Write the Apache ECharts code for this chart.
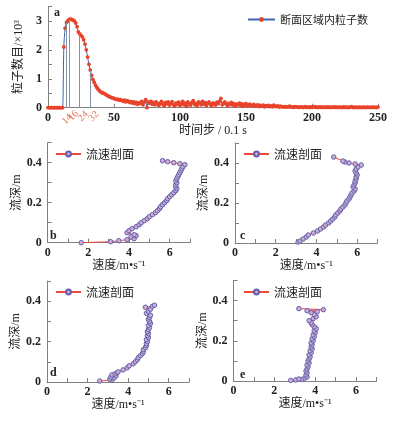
<!DOCTYPE html>
<html>
<head>
<meta charset="utf-8">
<script src="https://cdn.jsdelivr.net/npm/echarts@6/dist/echarts.min.js"></script>
<style>
  html, body { margin: 0; padding: 0; background: #fff; }
  #main { width: 397px; height: 421px; }
</style>
</head>
<body>
<div id="main"></div>
<script>
// 图a: 断面区域内粒子数 (x10^3), 时间步 0..250
const particleCount = [
  0, 0, 0, 0, 0, 0, 0, 0, 0, 0,
  0, 0, 2.1, 2.75, 2.95, 3.0, 3.05, 3.06, 3.05, 3.03,
  3.0, 2.93, 2.8, 2.62, 2.55, 2.5, 2.45, 2.35, 2.2, 2.0,
  1.75, 1.5, 1.3, 1.12, 0.98, 0.88, 0.78, 0.7, 0.64, 0.58,
  0.55, 0.52, 0.5, 0.48, 0.45, 0.42, 0.4, 0.37, 0.35, 0.34,
  0.32, 0.3, 0.28, 0.3, 0.26, 0.28, 0.25, 0.22, 0.26, 0.2,
  0.24, 0.22, 0.18, 0.21, 0.16, 0.2, 0.14, 0.18, 0.12, 0.17,
  0.15, 0.22, 0.1, 0.19, 0.28, 0, 0.2, 0.15, 0.22, 0.12,
  0.18, 0.1, 0.2, 0.14, 0.08, 0.16, 0.22, 0.12, 0.06, 0.18,
  0.13, 0.2, 0.09, 0.15, 0.21, 0.1, 0.06, 0.17, 0.12, 0.19,
  0.08, 0.14, 0.22, 0.1, 0.16, 0.05, 0.2, 0.13, 0.09, 0.18,
  0.24, 0.11, 0.15, 0.07, 0.2, 0.16, 0.1, 0.22, 0.12, 0.18,
  0.08, 0.15, 0.2, 0.11, 0.06, 0.17, 0.13, 0.09, 0.19, 0.14,
  0.22, 0.32, 0.1, 0.16, 0.2, 0.12, 0.07, 0.15, 0.11, 0.18,
  0.09, 0.14, 0.06, 0.12, 0.1, 0.16, 0.08, 0.13, 0.05, 0.11,
  0.14, 0.07, 0.1, 0.12, 0.06, 0.09, 0.11, 0.05, 0.08, 0.1,
  0.04, 0.08, 0.06, 0.09, 0.03, 0.07, 0.05, 0.08, 0.04, 0.06,
  0.03, 0.09, 0.05, 0.04, 0.06, 0.02, 0.05, 0.03, 0.04, 0.02,
  0.04, 0.02, 0.03, 0.05, 0.02, 0.03, 0.01, 0.04, 0.02, 0.03,
  0.01, 0.02, 0.03, 0.01, 0.02, 0.04, 0.01, 0.02, 0.01, 0.03,
  0.01, 0.02, 0.04, 0.01, 0.02, 0.01, 0.03, 0.01, 0.02, 0.01,
  0.02, 0.01, 0.03, 0.01, 0.01, 0.02, 0.01, 0.03, 0.01, 0.02,
  0.01, 0.02, 0.01, 0.01, 0.03, 0.01, 0.02, 0.01, 0.01, 0.02,
  0.04, 0.01, 0.01, 0.02, 0.01, 0.01, 0.02, 0.01, 0.01, 0.02,
  0.01, 0.01, 0.02, 0.01, 0.01, 0.01, 0.02, 0.01, 0.01, 0.01, 0.02
];
const markSteps = [14, 16, 24, 32];

// 图b-e: 流速剖面 (速度 m/s, 流深 m)
const depthB = [0, 0.005, 0.01, 0.015, 0.02, 0.03, 0.035, 0.04, 0.05, 0.06, 0.07, 0.08, 0.09, 0.10, 0.11, 0.12, 0.13, 0.14, 0.15, 0.16, 0.17, 0.18, 0.19, 0.20, 0.21, 0.22, 0.23, 0.24, 0.25, 0.26, 0.27, 0.28, 0.29, 0.30, 0.31, 0.32, 0.33, 0.34, 0.35, 0.36, 0.37, 0.38, 0.39, 0.395, 0.40, 0.405, 0.41];
const speedB = [1.65, 3.1, 3.5, 3.9, 4.25, 4.1, 4.35, 4.25, 3.9, 4.0, 4.15, 4.35, 4.5, 4.6, 4.75, 4.9, 5.0, 5.15, 5.3, 5.4, 5.5, 5.55, 5.65, 5.75, 5.85, 5.9, 6.0, 6.1, 6.2, 6.3, 6.35, 6.3, 6.3, 6.35, 6.3, 6.35, 6.4, 6.45, 6.5, 6.55, 6.6, 6.65, 6.75, 6.5, 6.2, 5.9, 5.65];

const depthC = [0.005, 0.01, 0.02, 0.03, 0.04, 0.05, 0.06, 0.07, 0.08, 0.09, 0.10, 0.11, 0.12, 0.13, 0.14, 0.15, 0.16, 0.17, 0.18, 0.19, 0.20, 0.21, 0.22, 0.23, 0.24, 0.25, 0.26, 0.27, 0.28, 0.29, 0.30, 0.31, 0.32, 0.33, 0.34, 0.35, 0.36, 0.37, 0.38, 0.39, 0.395, 0.40, 0.405, 0.41, 0.43];
const speedC = [3.1, 3.2, 3.35, 3.5, 3.6, 3.85, 4.05, 4.2, 4.35, 4.45, 4.6, 4.7, 4.8, 4.9, 4.95, 5.05, 5.15, 5.2, 5.3, 5.4, 5.45, 5.5, 5.6, 5.65, 5.7, 5.75, 5.85, 5.9, 5.8, 5.85, 5.9, 5.9, 5.95, 5.95, 6.0, 5.95, 5.9, 5.95, 6.05, 6.2, 5.9, 5.6, 5.4, 5.3, 4.85];

const depthD = [0.005, 0.01, 0.015, 0.02, 0.025, 0.03, 0.035, 0.04, 0.045, 0.05, 0.06, 0.07, 0.08, 0.09, 0.10, 0.11, 0.12, 0.13, 0.14, 0.15, 0.16, 0.17, 0.18, 0.19, 0.20, 0.21, 0.22, 0.23, 0.24, 0.25, 0.26, 0.27, 0.28, 0.29, 0.30, 0.31, 0.32, 0.33, 0.34, 0.35, 0.36, 0.37, 0.375, 0.38];
const speedD = [2.6, 3.2, 3.1, 3.3, 3.15, 3.4, 3.2, 3.35, 3.45, 3.5, 3.75, 3.95, 4.05, 4.25, 4.35, 4.45, 4.5, 4.6, 4.7, 4.75, 4.75, 4.85, 4.9, 4.9, 4.95, 4.9, 5.0, 4.95, 5.0, 4.95, 5.0, 5.05, 5.0, 5.1, 5.05, 5.0, 5.05, 5.1, 4.9, 5.0, 5.1, 4.85, 5.2, 5.3];

const depthE = [0.003, 0.005, 0.008, 0.01, 0.015, 0.02, 0.03, 0.04, 0.05, 0.06, 0.07, 0.08, 0.09, 0.10, 0.11, 0.12, 0.13, 0.14, 0.15, 0.16, 0.17, 0.18, 0.19, 0.20, 0.21, 0.22, 0.23, 0.24, 0.25, 0.26, 0.27, 0.28, 0.29, 0.30, 0.31, 0.32, 0.33, 0.34, 0.345, 0.35, 0.355, 0.36];
const speedE = [2.8, 3.05, 3.35, 3.2, 3.5, 3.6, 3.55, 3.6, 3.55, 3.6, 3.65, 3.6, 3.7, 3.65, 3.7, 3.75, 3.7, 3.8, 3.75, 3.85, 3.8, 3.85, 3.8, 3.9, 3.85, 3.95, 3.9, 4.0, 3.95, 4.05, 3.95, 3.85, 3.8, 3.7, 3.9, 4.05, 3.95, 3.8, 4.1, 3.6, 4.4, 3.2];

const profiles = [
  { speed: speedB, depth: depthB },
  { speed: speedC, depth: depthC },
  { speed: speedD, depth: depthD },
  { speed: speedE, depth: depthE }
];

const numFont = '"Liberation Serif", serif';
const nameFont = '"Liberation Serif", "Noto Sans CJK SC", serif';
const cjkFont = '"Noto Sans CJK SC", sans-serif';
const axisColor = '#808080';
const textColor = '#222';

const chart = echarts.init(document.getElementById('main'));

// 网格位置: a 在上, b c d e 两行两列
const grids = [
  { left: 48, top: 6.5, width: 330, height: 101.2 },
  { left: 47.7, top: 142.7, width: 142.3, height: 100 },
  { left: 235, top: 143, width: 142.5, height: 100 },
  { left: 47, top: 281, width: 142, height: 101 },
  { left: 233.5, top: 280.5, width: 143, height: 100.5 }
];

const baseAxis = {
  axisLine: { lineStyle: { color: axisColor, width: 1 } },
  axisTick: { inside: true, length: 4, lineStyle: { color: axisColor } },
  splitLine: { show: false },
  axisLabel: { fontFamily: numFont, fontWeight: 'bold', fontSize: 12, color: textColor },
  nameTextStyle: { fontFamily: nameFont, fontSize: 12, color: textColor },
  nameLocation: 'middle'
};

const xAxes = [
  Object.assign({}, baseAxis, {
    gridIndex: 0, type: 'value', min: 0, max: 250, interval: 50,
    name: '时间步 / 0.1 s', nameGap: 14,
    axisLabel: Object.assign({}, baseAxis.axisLabel, { margin: 4 })
  })
];
const yAxes = [
  Object.assign({}, baseAxis, {
    gridIndex: 0, type: 'value', min: 0, max: 3.5, interval: 0.5,
    name: '粒子数目/×10³', nameGap: 18,
    axisLabel: Object.assign({}, baseAxis.axisLabel, {
      margin: 6,
      formatter: v => (Number.isInteger(v) ? String(v) : '')
    })
  })
];

profiles.forEach((p, i) => {
  xAxes.push(Object.assign({}, baseAxis, {
    gridIndex: i + 1, type: 'value', min: 0, max: 7, interval: 1,
    name: '速度/m•s⁻¹', nameGap: 15,
    axisLabel: Object.assign({}, baseAxis.axisLabel, {
      margin: 4,
      formatter: v => (v % 2 === 0 ? String(v) : '')
    })
  }));
  yAxes.push(Object.assign({}, baseAxis, {
    gridIndex: i + 1, type: 'value', min: 0, max: 0.5, interval: 0.1,
    name: '流深/m', nameGap: 22,
    axisLabel: Object.assign({}, baseAxis.axisLabel, {
      margin: 6,
      formatter: v => (Math.round(v * 10) % 2 === 0 && v < 0.45 ? String(+v.toFixed(1)) : '')
    })
  }));
});

const series = [
  {
    type: 'line',
    name: '断面区域内粒子数',
    xAxisIndex: 0, yAxisIndex: 0,
    data: particleCount.map((v, t) => [t, v]),
    smooth: 0.3,
    symbol: 'circle', symbolSize: 3.8, showAllSymbol: true,
    lineStyle: { color: '#3e62b0', width: 1 },
    itemStyle: { color: '#e8432a' },
    markLine: {
      silent: true, symbol: 'none',
      lineStyle: { color: '#8592a6', width: 1, type: 'solid' },
      label: { show: false },
      data: markSteps.map(t => [{ coord: [t, 0] }, { coord: [t, particleCount[t]] }])
    }
  },
  {
    // 时间步标注 14 16 24 32
    type: 'scatter', name: 'steps',
    xAxisIndex: 0, yAxisIndex: 0,
    data: markSteps.map((t, k) => ({
      value: [t, 0],
      label: { offset: [k === 0 ? -4 : (k === 1 ? 1 : 0), 0] }
    })),
    symbolSize: 0, silent: true,
    label: {
      show: true, position: 'bottom', distance: 5, rotate: 45,
      formatter: p => String(p.value[0]),
      color: '#e0502a', fontSize: 10, fontFamily: numFont
    }
  }
];

profiles.forEach((p, i) => {
  series.push({
    type: 'line',
    name: '流速剖面',
    xAxisIndex: i + 1, yAxisIndex: i + 1,
    data: p.speed.map((s, k) => [s, p.depth[k]]),
    symbol: 'circle', symbolSize: 4.5,
    lineStyle: { color: '#e8493f', width: 1 },
    itemStyle: { color: '#d3abd2', borderColor: '#5e62ae', borderWidth: 1 }
  });
});

const legendText = { fontFamily: cjkFont, fontSize: 12, color: textColor };
const legends = [
  { data: ['断面区域内粒子数'], right: 24, top: 9, itemWidth: 27, itemHeight: 6, textStyle: Object.assign({}, legendText, { fontSize: 11 }), selectedMode: false }
];
const legendPos = [[50, 143], [238, 143], [50, 281], [238, 281]];
legendPos.forEach(pos => {
  legends.push({ data: ['流速剖面'], left: pos[0], top: pos[1], itemWidth: 25, itemHeight: 6, itemGap: 4, textStyle: legendText, selectedMode: false });
});

const tagPos = { a: [54, 7], b: [50, 230], c: [240, 230], d: [50, 367], e: [240, 369] };
const graphics = Object.keys(tagPos).map(k => ({
  type: 'text', left: tagPos[k][0], top: tagPos[k][1],
  style: { text: k, font: 'bold 12px "Liberation Serif"', fill: textColor }
}));

chart.setOption({
  animation: false,
  backgroundColor: '#fff',
  grid: grids,
  xAxis: xAxes,
  yAxis: yAxes,
  legend: legends,
  series: series,
  graphic: graphics
});
</script>
</body>
</html>
